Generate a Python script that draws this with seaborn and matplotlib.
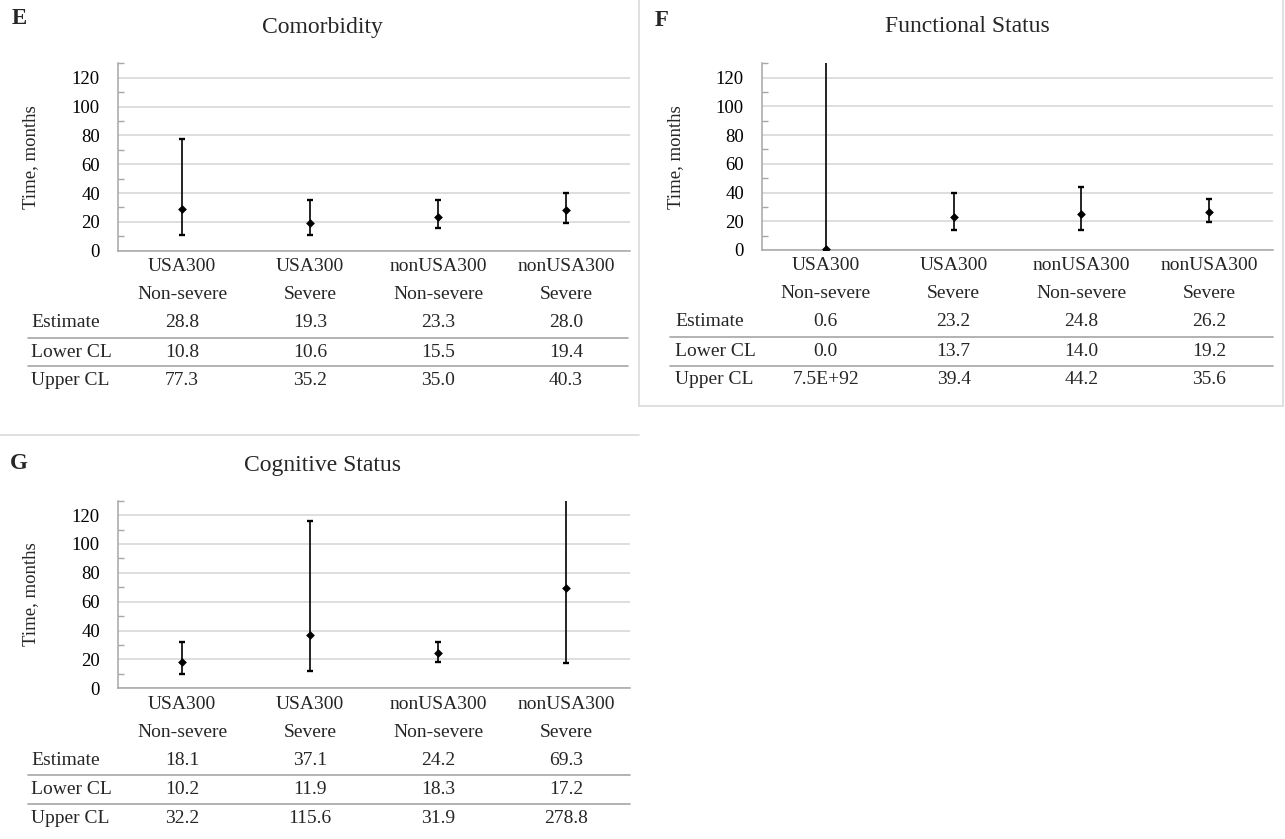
import numpy as np
import pandas as pd
import seaborn as sns
import matplotlib
matplotlib.use("Agg")
import matplotlib.pyplot as plt
from matplotlib.lines import Line2D
from matplotlib.ticker import FixedLocator
from matplotlib.transforms import blended_transform_factory

# ---------------- data ----------------
categories_top = ["USA300", "USA300", "nonUSA300", "nonUSA300"]
categories_bottom = ["Non-severe", "Severe", "Non-severe", "Severe"]
row_labels = ["Estimate", "Lower CL", "Upper CL"]

comorbidity_est = [28.8, 19.3, 23.3, 28.0]
comorbidity_lower = [10.8, 10.6, 15.5, 19.4]
comorbidity_upper = [77.3, 35.2, 35.0, 40.3]

functional_est = [0.6, 23.2, 24.8, 26.2]
functional_lower = [0.0, 13.7, 14.0, 19.2]
functional_upper = [7.5e92, 39.4, 44.2, 35.6]

cognitive_est = [18.1, 37.1, 24.2, 69.3]
cognitive_lower = [10.2, 11.9, 18.3, 17.2]
cognitive_upper = [32.2, 115.6, 31.9, 278.8]

y_major = [0, 20, 40, 60, 80, 100, 120]
y_minor = [10, 30, 50, 70, 90, 110, 130]

# ---------------- style ----------------
sns.set_theme(style="white")
plt.rcParams["font.family"] = ["Liberation Serif", "DejaVu Serif"]

W, H = 1285, 839
fig = plt.figure(figsize=(W / 100, H / 100), dpi=100)
fig.patch.set_facecolor("white")

SPINE = "#a6a6a6"
GRID = "#d4d4d4"
TLINE = "#a6a6a6"
BOX = "#dadada"


def fx(px):
    return px / W


def fy(py):
    return 1 - py / H


def fmt(v):
    return f"{v:.1E}" if abs(v) >= 1e6 else f"{v:.1f}"


def draw_panel(rect, letter, letter_xy, title, title_xy, est, lo, hi,
               ylabel_x, rowlabel_x, line_x0, line_x1):
    l, t, r, b = rect
    ax = fig.add_axes([fx(l), fy(b), (r - l) / W, (b - t) / H])
    df = pd.DataFrame({"x": np.arange(len(est)), "est": est, "lo": lo, "hi": hi})
    ax.errorbar(df["x"], df["est"],
                yerr=[df["est"] - df["lo"], df["hi"] - df["est"]],
                fmt="none", ecolor="black", elinewidth=1.2,
                capsize=2.3, capthick=1.7, zorder=3, clip_on=True)
    sns.scatterplot(data=df, x="x", y="est", marker="D", s=20, color="black",
                    edgecolor="black", linewidth=0, ax=ax, zorder=4, legend=False)
    ax.set_xlim(-0.5, len(est) - 0.5)
    ax.set_ylim(0, 130)
    ax.yaxis.set_major_locator(FixedLocator(y_major))
    ax.yaxis.set_minor_locator(FixedLocator(y_minor))
    ax.grid(axis="y", which="major", color=GRID, lw=1.1)
    ax.set_axisbelow(True)
    for s in ["top", "right"]:
        ax.spines[s].set_visible(False)
    for s in ["left", "bottom"]:
        ax.spines[s].set_color(SPINE)
        ax.spines[s].set_linewidth(1.1)
    ax.tick_params(axis="y", which="major", length=0, pad=13, labelsize=13.5,
                   labelcolor="black")
    ax.tick_params(axis="y", which="minor", direction="in", length=4,
                   width=1.0, color=SPINE, left=True)
    ax.set_xticks([])
    ax.set_xlabel("")
    ax.set_ylabel("")
    ax.patch.set_alpha(0)

    # y label
    fig.text(fx(ylabel_x), fy((t + b) / 2), "Time, months", rotation=90,
             ha="center", va="center", fontsize=13.5)
    # panel letter + title
    fig.text(fx(letter_xy[0]), fy(letter_xy[1]), letter, fontsize=16.5,
             fontweight="bold", ha="left", va="top")
    fig.text(fx(title_xy[0]), fy(title_xy[1]), title, fontsize=17,
             ha="center", va="center")

    # table under the axis
    tr = blended_transform_factory(ax.transData, fig.transFigure)
    offs_cat = [16, 44]
    offs_rows = [72, 101.5, 130]
    for i in range(len(est)):
        fig.text(i, fy(b + offs_cat[0]), categories_top[i], transform=tr,
                 ha="center", va="center", fontsize=14)
        fig.text(i, fy(b + offs_cat[1]), categories_bottom[i], transform=tr,
                 ha="center", va="center", fontsize=14)
        for vals, off in zip([est, lo, hi], offs_rows):
            fig.text(i, fy(b + off), fmt(vals[i]), transform=tr,
                     ha="center", va="center", fontsize=14)
    for lab, off in zip(row_labels, offs_rows):
        fig.text(fx(rowlabel_x), fy(b + off), lab, ha="left", va="center",
                 fontsize=14)
    for off in [87, 115.5]:
        fig.add_artist(Line2D([fx(line_x0), fx(line_x1)], [fy(b + off)] * 2,
                              transform=fig.transFigure, color=TLINE, lw=1.2))
    return ax


draw_panel((118, 63.3, 630, 250.7), "E", (12, 8), "Comorbidity", (322, 27),
           comorbidity_est, comorbidity_lower, comorbidity_upper,
           ylabel_x=31, rowlabel_x=31, line_x0=28, line_x1=628)
draw_panel((762, 63.3, 1273, 250.0), "F", (655, 10), "Functional Status", (967, 27),
           functional_est, functional_lower, functional_upper,
           ylabel_x=676, rowlabel_x=675, line_x0=670, line_x1=1273)
draw_panel((118, 500.7, 630, 688.3), "G", (10, 453), "Cognitive Status", (323, 465),
           cognitive_est, cognitive_lower, cognitive_upper,
           ylabel_x=31, rowlabel_x=31, line_x0=28, line_x1=630)

# panel frame lines
fig.add_artist(Line2D([fx(639), fx(639)], [fy(0), fy(405.7)],
                      transform=fig.transFigure, color=BOX, lw=1.2))
fig.add_artist(Line2D([fx(639), fx(1283)], [fy(405.7), fy(405.7)],
                      transform=fig.transFigure, color=BOX, lw=1.2))
fig.add_artist(Line2D([fx(1283), fx(1283)], [fy(0), fy(405.7)],
                      transform=fig.transFigure, color=BOX, lw=1.2))
fig.add_artist(Line2D([fx(0), fx(639)], [fy(435), fy(435)],
                      transform=fig.transFigure, color=BOX, lw=1.2))

fig.savefig("out.png", dpi=100, facecolor="white")
